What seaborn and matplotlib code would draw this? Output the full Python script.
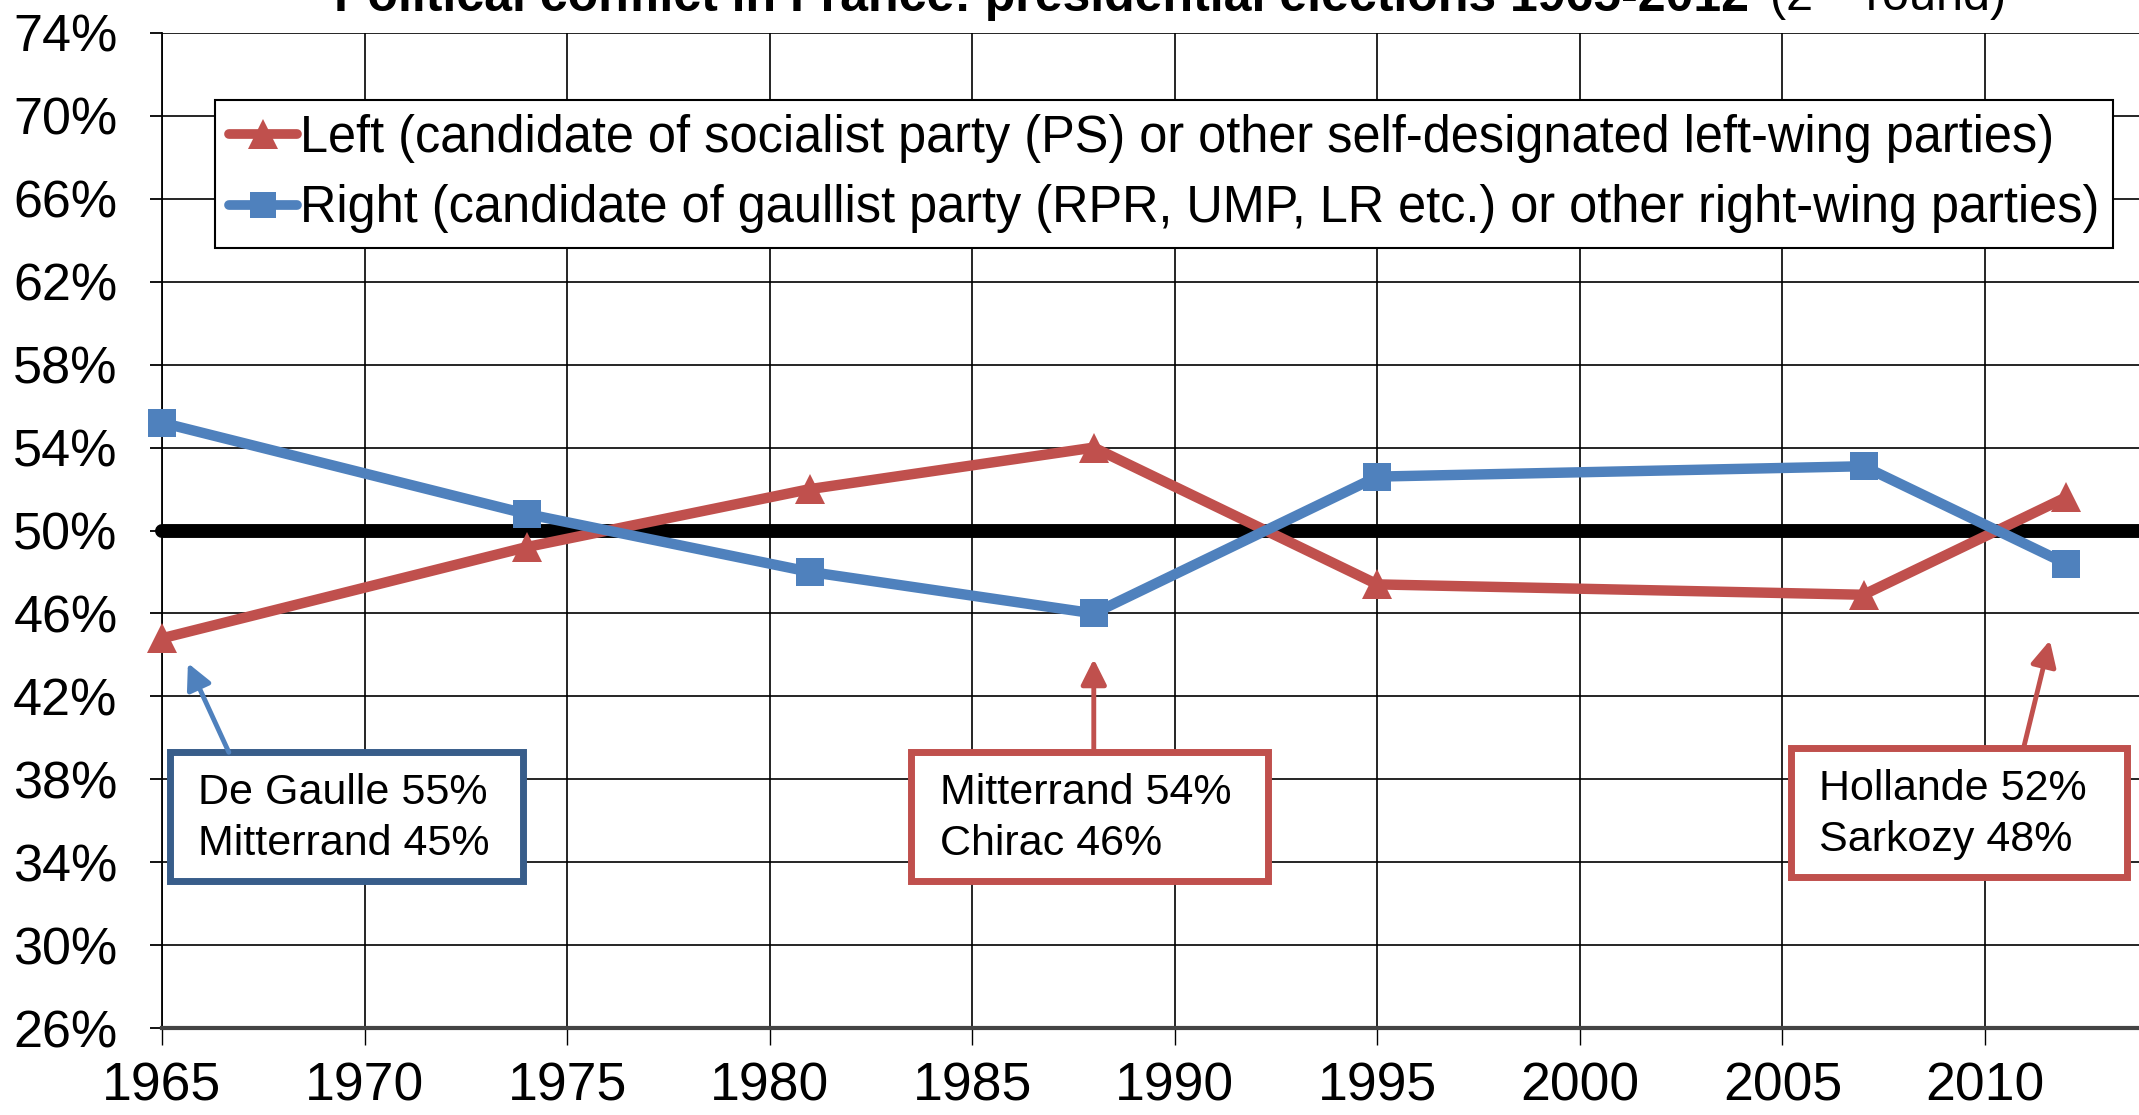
import matplotlib
matplotlib.use("Agg")
import matplotlib.pyplot as plt
import seaborn as sns
import pandas as pd
from matplotlib.patches import Rectangle, FancyArrowPatch
from matplotlib.lines import Line2D

# ---------------- data ----------------
years = [1965, 1974, 1981, 1988, 1995, 2007, 2012]
left_share = [44.8, 49.2, 52.0, 54.0, 47.4, 46.9, 51.6]
right_share = [55.2, 50.8, 48.0, 46.0, 52.6, 53.1, 48.4]
left_label = "Left (candidate of socialist party (PS) or other self-designated left-wing parties)"
right_label = "Right (candidate of gaullist party (RPR, UMP, LR etc.) or other right-wing parties)"
x_ticks = [1965, 1970, 1975, 1980, 1985, 1990, 1995, 2000, 2005, 2010]
y_ticks = [26, 30, 34, 38, 42, 46, 50, 54, 58, 62, 66, 70, 74]
y_tick_labels = [f"{v}%" for v in y_ticks]
callout_texts = ["De Gaulle 55%\nMitterrand 45%",
                 "Mitterrand 54%\nChirac 46%",
                 "Hollande 52%\nSarkozy 48%"]

# ---------------- style ----------------
RED = "#C0504D"
BLUE = "#4F81BD"
DARKBLUE = "#385D8A"

sns.set_theme(style="white")
plt.rcParams["font.family"] = ["Liberation Sans", "DejaVu Sans"]
plt.rcParams["mathtext.fontset"] = "custom"
plt.rcParams["mathtext.rm"] = "Liberation Sans"
plt.rcParams["mathtext.it"] = "Liberation Sans:italic"
plt.rcParams["mathtext.bf"] = "Liberation Sans:bold"
plt.rcParams["text.color"] = "black"
plt.rcParams["xtick.color"] = "black"
plt.rcParams["ytick.color"] = "black"

df = pd.DataFrame({
    "year": years * 2,
    "share": left_share + right_share,
    "series": [left_label] * len(years) + [right_label] * len(years),
})

fig = plt.figure(figsize=(21.39, 11.15), dpi=100)
ax = fig.add_axes([162 / 2139, 1 - 1028 / 1115, 1 - 162 / 2139, 995 / 1115])

ax.set_xlim(1965, 2013.8)
ax.set_ylim(26, 74)
ax.set_xticks(x_ticks)
ax.set_yticks(y_ticks)
ax.set_yticklabels(y_tick_labels)
ax.grid(True, color="black", linewidth=1.2)
ax.set_axisbelow(True)
for s in ["top", "right"]:
    ax.spines[s].set_visible(False)
ax.spines["left"].set_color("black")
ax.spines["left"].set_linewidth(1.3)
ax.spines["bottom"].set_color("#444444")
ax.spines["bottom"].set_linewidth(3)
ax.tick_params(axis="y", direction="out", length=9, width=1.3, color="black",
               labelsize=37.5, pad=23, labelcolor="black")
ax.tick_params(axis="x", direction="out", length=12, width=1.0, color="black",
               labelsize=38.5, pad=12, labelcolor="black")
ax.tick_params(left=True, bottom=True)

ax.axhline(50, color="black", linewidth=10, zorder=2)

sns.lineplot(data=df, x="year", y="share", hue="series", style="series",
             palette={left_label: RED, right_label: BLUE},
             markers={left_label: "^", right_label: "s"},
             dashes=False, linewidth=7.5, markersize=20, markeredgewidth=0,
             ax=ax, zorder=3, legend=False)
for ln in ax.lines:
    if ln.get_marker() == "^":
        ln.set_markersize(22)
    ln.set_clip_on(False)

# legend
handles = [Line2D([], [], color=RED, marker="^", lw=7, markersize=21, markeredgewidth=0),
           Line2D([], [], color=BLUE, marker="s", lw=7, markersize=19, markeredgewidth=0)]
leg = ax.legend(handles, [left_label, right_label], loc="upper left",
                bbox_to_anchor=(0.0268, 0.9327), borderaxespad=0,
                fontsize=36.4, frameon=True, fancybox=False, framealpha=1,
                edgecolor="black", handlelength=1.35, handletextpad=0.05,
                labelspacing=0.42, borderpad=0.28)
leg.get_frame().set_linewidth(1.5)
for t in leg.get_texts():
    t.set_color("black")

# callouts
callouts = [
    dict(box=(1965.2, 33.1, 8.7, 6.2), tx=1965.9, edge=DARKBLUE, acolor=BLUE,
         a_from=(1966.65, 39.3), a_to=(1965.64, 43.6)),
    dict(box=(1983.5, 33.1, 8.8, 6.2), tx=1984.2, edge=RED, acolor=RED,
         a_from=(1988.0, 39.3), a_to=(1988.0, 43.8)),
    dict(box=(2005.2, 33.3, 8.3, 6.2), tx=2005.9, edge=RED, acolor=RED,
         a_from=(2010.95, 39.5), a_to=(2011.6, 44.7)),
]
for txt, c in zip(callout_texts, callouts):
    x0, y0, w, h = c["box"]
    ax.add_patch(Rectangle((x0, y0), w, h, facecolor="white", edgecolor=c["edge"],
                           linewidth=5, zorder=5, clip_on=False))
    ax.text(c["tx"], y0 + h / 2 - 0.1, txt, fontsize=31, va="center", ha="left",
            linespacing=1.35, zorder=6, color="black")
    ax.add_patch(FancyArrowPatch(c["a_from"], c["a_to"],
                                 arrowstyle="-|>,head_length=0.7,head_width=0.35",
                                 mutation_scale=22, color=c["acolor"], lw=3.5,
                                 zorder=6, shrinkA=0, shrinkB=0, clip_on=False))

# title (partly cut off at top, as in the reference)
fig.text(334 / 2139, 1 - 11 / 1115,
         "Political conflict in France: presidential elections 1965-2012",
         fontsize=36, fontweight="bold", ha="left", va="baseline")
fig.text(1769 / 2139, 1 - 11 / 1115, r"(2$^{\mathrm{nd}}$ round)",
         fontsize=35, ha="left", va="baseline")

ax.set_xlabel("")
ax.set_ylabel("")
fig.savefig("out.png", dpi=100)
